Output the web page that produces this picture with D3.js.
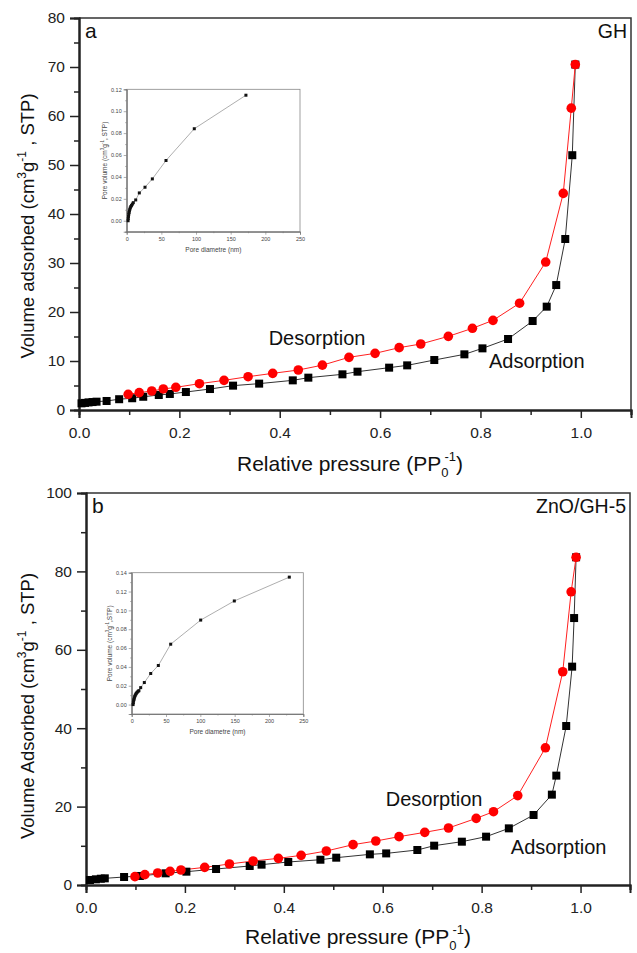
<!DOCTYPE html>
<html>
<head>
<meta charset="utf-8">
<script src="https://cdn.jsdelivr.net/npm/d3@7"></script>
<style>
  body { margin: 0; background: #fff; }
  text { font-family: "Liberation Sans", Arial, sans-serif; }
</style>
</head>
<body>
<div id="chart"></div>
<script>
// ---- data ----
const ghAdsP = [0.005, 0.012, 0.019, 0.027, 0.035, 0.055, 0.08, 0.106, 0.128, 0.159, 0.181, 0.213, 0.261, 0.307, 0.359, 0.426, 0.457, 0.525, 0.555, 0.618, 0.654, 0.708, 0.768, 0.804, 0.855, 0.904, 0.932, 0.951, 0.969, 0.983, 0.989];
const ghAdsV = [1.36, 1.45, 1.55, 1.62, 1.7, 1.84, 2.2, 2.4, 2.7, 3.06, 3.27, 3.67, 4.28, 4.97, 5.38, 6.05, 6.6, 7.28, 7.82, 8.64, 9.11, 10.2, 11.36, 12.58, 14.49, 18.16, 21.09, 25.5, 34.9, 52.0, 70.5];
const ghDesP = [0.098, 0.12, 0.145, 0.168, 0.193, 0.24, 0.289, 0.337, 0.386, 0.437, 0.485, 0.538, 0.59, 0.638, 0.681, 0.736, 0.784, 0.825, 0.878, 0.93, 0.965, 0.981, 0.989];
const ghDesV = [3.2, 3.54, 3.88, 4.29, 4.63, 5.37, 6.05, 6.8, 7.48, 8.16, 9.15, 10.75, 11.56, 12.72, 13.47, 15.03, 16.67, 18.3, 21.8, 30.2, 44.2, 61.6, 70.5];

const znAdsP = [0.008, 0.02, 0.03, 0.038, 0.077, 0.109, 0.161, 0.203, 0.263, 0.331, 0.355, 0.409, 0.474, 0.506, 0.574, 0.607, 0.67, 0.704, 0.76, 0.809, 0.855, 0.905, 0.942, 0.951, 0.971, 0.983, 0.987, 0.991];
const znAdsV = [1.28, 1.45, 1.6, 1.7, 2.04, 2.3, 2.98, 3.4, 4.08, 4.85, 5.19, 5.87, 6.45, 6.97, 7.82, 8.06, 8.93, 10.03, 11.05, 12.33, 14.45, 17.86, 23.05, 27.9, 40.56, 55.7, 68.1, 83.6];
const znDesP = [0.099, 0.119, 0.145, 0.17, 0.192, 0.24, 0.29, 0.338, 0.389, 0.435, 0.486, 0.54, 0.586, 0.633, 0.685, 0.733, 0.789, 0.824, 0.873, 0.929, 0.964, 0.981, 0.991];
const znDesV = [2.13, 2.64, 3.06, 3.49, 3.83, 4.5, 5.36, 6.12, 6.8, 7.56, 8.67, 10.29, 11.22, 12.33, 13.43, 14.54, 17.0, 18.7, 22.8, 35.0, 54.4, 74.8, 83.6];

const ghPoreD = [2, 2.3, 2.6, 3, 3.4, 3.9, 4.5, 5.2, 6, 7, 8.2, 9.5, 13, 18.2, 26.4, 37, 56.7, 97.5, 172];
const ghPoreV = [0, 0.002, 0.004, 0.006, 0.0075, 0.009, 0.0105, 0.0118, 0.013, 0.014, 0.0152, 0.0165, 0.019, 0.0254, 0.0306, 0.0382, 0.055, 0.084, 0.1146];
const znPoreD = [2, 2.4, 2.8, 3.3, 3.8, 4.4, 5.1, 5.9, 6.8, 7.9, 9.2, 10.5, 13.1, 18.4, 27.7, 38.8, 56.8, 100.5, 149.5, 229.6];
const znPoreV = [0, 0.002, 0.004, 0.0055, 0.007, 0.0085, 0.0098, 0.011, 0.012, 0.013, 0.014, 0.0148, 0.018, 0.0234, 0.033, 0.0415, 0.0641, 0.0897, 0.110, 0.1353];

const xMajor = [0, 0.2, 0.4, 0.6, 0.8, 1.0];
const xMinor = [0.1, 0.3, 0.5, 0.7, 0.9, 1.1];
const ghYMajor = [0, 10, 20, 30, 40, 50, 60, 70, 80];
const ghYMinor = [5, 15, 25, 35, 45, 55, 65, 75];
const znYMajor = [0, 20, 40, 60, 80, 100];
const znYMinor = [10, 30, 50, 70, 90];
const poreXMajor = [0, 50, 100, 150, 200, 250];
const poreXMinor = [25, 75, 125, 175, 225];

const zip = (a, b) => a.map((v, i) => [v, b[i]]);

const svg = d3.select("#chart").append("svg")
  .attr("width", 637).attr("height", 953);

function styleAxis(g, size) {
  g.select(".domain").attr("stroke", "#222").attr("stroke-width", 2);
  g.selectAll(".tick line").attr("stroke", "#222").attr("stroke-width", 1.5);
  g.selectAll("text").attr("font-size", size).attr("fill", "#222")
    .attr("font-family", "'Liberation Sans', Arial, sans-serif");
}

function drawPanel(p) {
  const x = d3.scaleLinear().domain([0, 1.1]).range([p.left, p.right]);
  const y = d3.scaleLinear().domain([0, p.yMax]).range([p.bottom, p.top]);
  const g = svg.append("g");

  // top & right frame
  g.append("path")
    .attr("d", `M${p.left},${p.top}H${p.right}V${p.bottom}`)
    .attr("fill", "none").attr("stroke", "#333").attr("stroke-width", 1.5);

  // minor ticks
  g.append("g").attr("transform", `translate(0,${p.bottom})`)
    .call(d3.axisBottom(x).tickValues(xMinor).tickSize(5).tickFormat(""))
    .call(styleAxis, 15.5);
  g.append("g").attr("transform", `translate(${p.left},0)`)
    .call(d3.axisLeft(y).tickValues(p.yMinor).tickSize(5).tickFormat(""))
    .call(styleAxis, 15.5);

  // major ticks
  g.append("g").attr("transform", `translate(0,${p.bottom})`)
    .call(d3.axisBottom(x).tickValues(xMajor).tickSize(8).tickPadding(9).tickFormat(d3.format(".1f")))
    .call(styleAxis, 15.5);
  g.append("g").attr("transform", `translate(${p.left},0)`)
    .call(d3.axisLeft(y).tickValues(p.yMajor).tickSize(9).tickPadding(5).tickFormat(d3.format("d")))
    .call(styleAxis, 15.5);

  const line = d3.line().x(d => x(d[0])).y(d => y(d[1]));
  const ads = zip(p.adsP, p.adsV);
  const des = zip(p.desP, p.desV);

  g.append("path").attr("d", line(ads)).attr("fill", "none")
    .attr("stroke", "#333").attr("stroke-width", 1);
  g.append("path").attr("d", line(des)).attr("fill", "none")
    .attr("stroke", "#ff2020").attr("stroke-width", 1);

  g.selectAll("rect.ads").data(ads).join("rect").attr("class", "ads")
    .attr("x", d => x(d[0]) - 4).attr("y", d => y(d[1]) - 4)
    .attr("width", 8).attr("height", 8).attr("fill", "#000");
  g.selectAll("circle.des").data(des).join("circle").attr("class", "des")
    .attr("cx", d => x(d[0])).attr("cy", d => y(d[1]))
    .attr("r", 4.8).attr("fill", "#ff0000");

  // annotations
  g.append("text").attr("x", p.left + 6).attr("y", p.top + 20)
    .attr("font-size", 21).attr("fill", "#111").text(p.letter);
  g.append("text").attr("x", p.right - 4).attr("y", p.top + 20)
    .attr("text-anchor", "end").attr("font-size", 19.5).attr("fill", "#111").text(p.name);
  g.append("text").attr("x", x(p.desLabel[0])).attr("y", y(p.desLabel[1]))
    .attr("font-size", 20).attr("fill", "#111").text("Desorption");
  g.append("text").attr("x", x(p.adsLabel[0])).attr("y", y(p.adsLabel[1]))
    .attr("font-size", 20).attr("fill", "#111").text("Adsorption");

  // x title
  const xt = g.append("text").attr("x", p.xTitle[0]).attr("y", p.xTitle[1])
    .attr("text-anchor", "middle").attr("font-size", 21).attr("fill", "#111");
  xt.append("tspan").text("Relative pressure (PP");
  xt.append("tspan").attr("font-size", 13).attr("dy", 6).text("0");
  xt.append("tspan").attr("font-size", 13).attr("dx", -4).attr("dy", -16).text("-1");
  xt.append("tspan").attr("dy", 10).text(")");

  // y title
  const yt = g.append("text")
    .attr("transform", `translate(${p.yTitle[0]},${p.yTitle[1]}) rotate(-90)`)
    .attr("text-anchor", "middle").attr("font-size", 18.5).attr("fill", "#111");
  yt.append("tspan").text(p.yWord + " (cm");
  yt.append("tspan").attr("font-size", 12).attr("dy", -8).text("3");
  yt.append("tspan").attr("dy", 8).text("g");
  yt.append("tspan").attr("font-size", 12).attr("dy", -8).text("-1");
  yt.append("tspan").attr("dy", 8).text(" , STP)");
}

function drawInset(p) {
  const x = d3.scaleLinear().domain([0, 250]).range([p.left, p.right]);
  const y = d3.scaleLinear().domain([-0.01, p.yMax]).range([p.bottom, p.top]);
  const g = svg.append("g");
  const st = (sel) => {
    sel.select(".domain").attr("stroke", "#777").attr("stroke-width", 0.8);
    sel.selectAll(".tick line").attr("stroke", "#777").attr("stroke-width", 0.6);
    sel.selectAll("text").attr("font-size", 5.5).attr("fill", "#444")
      .attr("font-family", "'Liberation Sans', Arial, sans-serif");
  };
  g.append("rect").attr("x", p.left).attr("y", p.top)
    .attr("width", p.right - p.left).attr("height", p.bottom - p.top)
    .attr("fill", "#fff").attr("stroke", "#888").attr("stroke-width", 0.8);

  g.append("g").attr("transform", `translate(0,${p.bottom})`)
    .call(d3.axisBottom(x).tickValues(poreXMinor).tickSize(1.5).tickFormat("")).call(st);
  g.append("g").attr("transform", `translate(0,${p.bottom})`)
    .call(d3.axisBottom(x).tickValues(poreXMajor).tickSize(3).tickPadding(2).tickFormat(d3.format("d"))).call(st);
  g.append("g").attr("transform", `translate(${p.left},0)`)
    .call(d3.axisLeft(y).tickValues(p.yMinor).tickSize(1.5).tickFormat("")).call(st);
  g.append("g").attr("transform", `translate(${p.left},0)`)
    .call(d3.axisLeft(y).tickValues(p.yMajor).tickSize(3).tickPadding(2).tickFormat(d3.format(".2f"))).call(st);

  const pts = zip(p.d, p.v);
  g.append("path").attr("d", d3.line().x(d => x(d[0])).y(d => y(d[1]))(pts))
    .attr("fill", "none").attr("stroke", "#999").attr("stroke-width", 0.8);
  g.selectAll("rect.pt").data(pts).join("rect").attr("class", "pt")
    .attr("x", d => x(d[0]) - 1.5).attr("y", d => y(d[1]) - 1.5)
    .attr("width", 3).attr("height", 3).attr("fill", "#111");

  g.append("text").attr("x", (p.left + p.right) / 2).attr("y", p.bottom + 20)
    .attr("text-anchor", "middle").attr("font-size", 6.5).attr("fill", "#444")
    .text("Pore diametre (nm)");
  const yt = g.append("text")
    .attr("transform", `translate(${p.left - 20},${(p.top + p.bottom) / 2}) rotate(-90)`)
    .attr("text-anchor", "middle").attr("font-size", 6.5).attr("fill", "#444");
  yt.append("tspan").text("Pore volume (cm");
  yt.append("tspan").attr("font-size", 4.5).attr("dy", -3).text("3");
  yt.append("tspan").attr("dy", 3).text("g");
  yt.append("tspan").attr("font-size", 4.5).attr("dy", -3).text("-1");
  yt.append("tspan").attr("dy", 3).text(p.stp);
}

drawPanel({
  left: 79, right: 631, top: 18, bottom: 410, yMax: 80,
  yMajor: ghYMajor, yMinor: ghYMinor,
  adsP: ghAdsP, adsV: ghAdsV, desP: ghDesP, desV: ghDesV,
  letter: "a", name: "GH",
  desLabel: [0.378, 13.3], adsLabel: [0.817, 8.6],
  xTitle: [350, 471], yTitle: [34, 226], yWord: "Volume adsorbed"
});
drawPanel({
  left: 86, right: 630, top: 493, bottom: 885, yMax: 100,
  yMajor: znYMajor, yMinor: znYMinor,
  adsP: znAdsP, adsV: znAdsV, desP: znDesP, desV: znDesV,
  letter: "b", name: "ZnO/GH-5",
  desLabel: [0.606, 20.2], adsLabel: [0.859, 7.9],
  xTitle: [358, 944], yTitle: [34, 706], yWord: "Volume Adsorbed"
});
drawInset({
  left: 126.7, right: 300, top: 89.3, bottom: 231.7, yMax: 0.12,
  yMajor: [0, 0.02, 0.04, 0.06, 0.08, 0.10, 0.12],
  yMinor: [-0.01, 0.01, 0.03, 0.05, 0.07, 0.09, 0.11],
  d: ghPoreD, v: ghPoreV, stp: ", STP)"
});
drawInset({
  left: 131.7, right: 303.3, top: 572.7, bottom: 714, yMax: 0.14,
  yMajor: [0, 0.02, 0.04, 0.06, 0.08, 0.10, 0.12, 0.14],
  yMinor: [-0.01, 0.01, 0.03, 0.05, 0.07, 0.09, 0.11, 0.13],
  d: znPoreD, v: znPoreV, stp: ",STP)"
});
</script>
</body>
</html>
